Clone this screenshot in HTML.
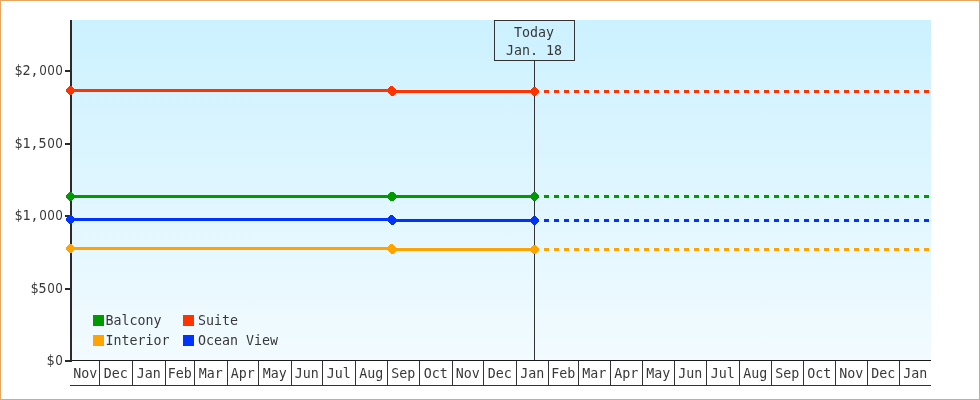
<!DOCTYPE html>
<html lang="en"><head><meta charset="utf-8"><title>Price History</title>
<style>
html,body{margin:0;padding:0;background:#fff;}
body{width:980px;height:400px;overflow:hidden;position:relative;}
#frame{position:absolute;left:0;top:0;width:978px;height:398px;border:1px solid #E9A55E;background:#fff;}
svg{position:absolute;left:0;top:0;display:block;}
text{font-family:"DejaVu Sans Mono", "Liberation Mono", monospace;font-size:13.3px;fill:#383838;}
tspan.z{font-family:"DejaVu Sans Condensed","DejaVu Sans Mono","Liberation Mono",monospace;}
</style></head><body>
<div id="frame"></div>
<svg width="980" height="400" viewBox="0 0 980 400">
<defs><linearGradient id="bg" x1="0" y1="0" x2="0" y2="1"><stop offset="0" stop-color="#CCF1FF"/><stop offset="1" stop-color="#F2FBFF"/></linearGradient></defs>
<g shape-rendering="crispEdges">
<rect x="72" y="20" width="859" height="340" fill="url(#bg)"/>
<rect x="70" y="20" width="2" height="342" fill="#2a2a2a"/>
<rect x="65" y="70" width="5" height="2" fill="#2a2a2a"/>
<rect x="65" y="143" width="5" height="2" fill="#2a2a2a"/>
<rect x="65" y="215" width="5" height="2" fill="#2a2a2a"/>
<rect x="65" y="288" width="5" height="2" fill="#2a2a2a"/>
<rect x="65" y="360" width="5" height="2" fill="#2a2a2a"/>
<rect x="72" y="360" width="859" height="1" fill="#1a1a1a"/>
<rect x="70" y="385" width="861" height="1" fill="#333"/>
<rect x="99" y="361" width="1" height="24" fill="#333"/>
<rect x="132" y="361" width="1" height="24" fill="#333"/>
<rect x="165" y="361" width="1" height="24" fill="#333"/>
<rect x="194" y="361" width="1" height="24" fill="#333"/>
<rect x="227" y="361" width="1" height="24" fill="#333"/>
<rect x="258" y="361" width="1" height="24" fill="#333"/>
<rect x="291" y="361" width="1" height="24" fill="#333"/>
<rect x="322" y="361" width="1" height="24" fill="#333"/>
<rect x="355" y="361" width="1" height="24" fill="#333"/>
<rect x="387" y="361" width="1" height="24" fill="#333"/>
<rect x="419" y="361" width="1" height="24" fill="#333"/>
<rect x="452" y="361" width="1" height="24" fill="#333"/>
<rect x="483" y="361" width="1" height="24" fill="#333"/>
<rect x="516" y="361" width="1" height="24" fill="#333"/>
<rect x="548" y="361" width="1" height="24" fill="#333"/>
<rect x="578" y="361" width="1" height="24" fill="#333"/>
<rect x="610" y="361" width="1" height="24" fill="#333"/>
<rect x="642" y="361" width="1" height="24" fill="#333"/>
<rect x="674" y="361" width="1" height="24" fill="#333"/>
<rect x="706" y="361" width="1" height="24" fill="#333"/>
<rect x="739" y="361" width="1" height="24" fill="#333"/>
<rect x="771" y="361" width="1" height="24" fill="#333"/>
<rect x="803" y="361" width="1" height="24" fill="#333"/>
<rect x="835" y="361" width="1" height="24" fill="#333"/>
<rect x="867" y="361" width="1" height="24" fill="#333"/>
<rect x="899" y="361" width="1" height="24" fill="#333"/>
<rect x="534" y="61" width="1" height="299" fill="#333"/>
<rect x="494.5" y="20.5" width="80" height="40" fill="none" stroke="#333" stroke-width="1"/>
<rect x="70" y="89" width="322" height="3" fill="#FF3300"/>
<rect x="392" y="90" width="143" height="3" fill="#FF3300"/>
<rect x="544" y="90" width="5" height="3" fill="#FF3300"/>
<rect x="554" y="90" width="5" height="3" fill="#FF3300"/>
<rect x="564" y="90" width="5" height="3" fill="#FF3300"/>
<rect x="574" y="90" width="5" height="3" fill="#FF3300"/>
<rect x="584" y="90" width="5" height="3" fill="#FF3300"/>
<rect x="594" y="90" width="5" height="3" fill="#FF3300"/>
<rect x="604" y="90" width="5" height="3" fill="#FF3300"/>
<rect x="614" y="90" width="5" height="3" fill="#FF3300"/>
<rect x="624" y="90" width="5" height="3" fill="#FF3300"/>
<rect x="634" y="90" width="5" height="3" fill="#FF3300"/>
<rect x="644" y="90" width="5" height="3" fill="#FF3300"/>
<rect x="654" y="90" width="5" height="3" fill="#FF3300"/>
<rect x="664" y="90" width="5" height="3" fill="#FF3300"/>
<rect x="674" y="90" width="5" height="3" fill="#FF3300"/>
<rect x="684" y="90" width="5" height="3" fill="#FF3300"/>
<rect x="694" y="90" width="5" height="3" fill="#FF3300"/>
<rect x="704" y="90" width="5" height="3" fill="#FF3300"/>
<rect x="714" y="90" width="5" height="3" fill="#FF3300"/>
<rect x="724" y="90" width="5" height="3" fill="#FF3300"/>
<rect x="734" y="90" width="5" height="3" fill="#FF3300"/>
<rect x="744" y="90" width="5" height="3" fill="#FF3300"/>
<rect x="754" y="90" width="5" height="3" fill="#FF3300"/>
<rect x="764" y="90" width="5" height="3" fill="#FF3300"/>
<rect x="774" y="90" width="5" height="3" fill="#FF3300"/>
<rect x="784" y="90" width="5" height="3" fill="#FF3300"/>
<rect x="794" y="90" width="5" height="3" fill="#FF3300"/>
<rect x="804" y="90" width="5" height="3" fill="#FF3300"/>
<rect x="814" y="90" width="5" height="3" fill="#FF3300"/>
<rect x="824" y="90" width="5" height="3" fill="#FF3300"/>
<rect x="834" y="90" width="5" height="3" fill="#FF3300"/>
<rect x="844" y="90" width="5" height="3" fill="#FF3300"/>
<rect x="854" y="90" width="5" height="3" fill="#FF3300"/>
<rect x="864" y="90" width="5" height="3" fill="#FF3300"/>
<rect x="874" y="90" width="5" height="3" fill="#FF3300"/>
<rect x="884" y="90" width="5" height="3" fill="#FF3300"/>
<rect x="894" y="90" width="5" height="3" fill="#FF3300"/>
<rect x="904" y="90" width="5" height="3" fill="#FF3300"/>
<rect x="914" y="90" width="5" height="3" fill="#FF3300"/>
<rect x="924" y="90" width="5" height="3" fill="#FF3300"/>
<rect x="70" y="195" width="322" height="3" fill="#009900"/>
<rect x="392" y="195" width="143" height="3" fill="#009900"/>
<rect x="544" y="195" width="5" height="3" fill="#009900"/>
<rect x="554" y="195" width="5" height="3" fill="#009900"/>
<rect x="564" y="195" width="5" height="3" fill="#009900"/>
<rect x="574" y="195" width="5" height="3" fill="#009900"/>
<rect x="584" y="195" width="5" height="3" fill="#009900"/>
<rect x="594" y="195" width="5" height="3" fill="#009900"/>
<rect x="604" y="195" width="5" height="3" fill="#009900"/>
<rect x="614" y="195" width="5" height="3" fill="#009900"/>
<rect x="624" y="195" width="5" height="3" fill="#009900"/>
<rect x="634" y="195" width="5" height="3" fill="#009900"/>
<rect x="644" y="195" width="5" height="3" fill="#009900"/>
<rect x="654" y="195" width="5" height="3" fill="#009900"/>
<rect x="664" y="195" width="5" height="3" fill="#009900"/>
<rect x="674" y="195" width="5" height="3" fill="#009900"/>
<rect x="684" y="195" width="5" height="3" fill="#009900"/>
<rect x="694" y="195" width="5" height="3" fill="#009900"/>
<rect x="704" y="195" width="5" height="3" fill="#009900"/>
<rect x="714" y="195" width="5" height="3" fill="#009900"/>
<rect x="724" y="195" width="5" height="3" fill="#009900"/>
<rect x="734" y="195" width="5" height="3" fill="#009900"/>
<rect x="744" y="195" width="5" height="3" fill="#009900"/>
<rect x="754" y="195" width="5" height="3" fill="#009900"/>
<rect x="764" y="195" width="5" height="3" fill="#009900"/>
<rect x="774" y="195" width="5" height="3" fill="#009900"/>
<rect x="784" y="195" width="5" height="3" fill="#009900"/>
<rect x="794" y="195" width="5" height="3" fill="#009900"/>
<rect x="804" y="195" width="5" height="3" fill="#009900"/>
<rect x="814" y="195" width="5" height="3" fill="#009900"/>
<rect x="824" y="195" width="5" height="3" fill="#009900"/>
<rect x="834" y="195" width="5" height="3" fill="#009900"/>
<rect x="844" y="195" width="5" height="3" fill="#009900"/>
<rect x="854" y="195" width="5" height="3" fill="#009900"/>
<rect x="864" y="195" width="5" height="3" fill="#009900"/>
<rect x="874" y="195" width="5" height="3" fill="#009900"/>
<rect x="884" y="195" width="5" height="3" fill="#009900"/>
<rect x="894" y="195" width="5" height="3" fill="#009900"/>
<rect x="904" y="195" width="5" height="3" fill="#009900"/>
<rect x="914" y="195" width="5" height="3" fill="#009900"/>
<rect x="924" y="195" width="5" height="3" fill="#009900"/>
<rect x="70" y="218" width="322" height="3" fill="#0033FF"/>
<rect x="392" y="219" width="143" height="3" fill="#0033FF"/>
<rect x="544" y="219" width="5" height="3" fill="#0033FF"/>
<rect x="554" y="219" width="5" height="3" fill="#0033FF"/>
<rect x="564" y="219" width="5" height="3" fill="#0033FF"/>
<rect x="574" y="219" width="5" height="3" fill="#0033FF"/>
<rect x="584" y="219" width="5" height="3" fill="#0033FF"/>
<rect x="594" y="219" width="5" height="3" fill="#0033FF"/>
<rect x="604" y="219" width="5" height="3" fill="#0033FF"/>
<rect x="614" y="219" width="5" height="3" fill="#0033FF"/>
<rect x="624" y="219" width="5" height="3" fill="#0033FF"/>
<rect x="634" y="219" width="5" height="3" fill="#0033FF"/>
<rect x="644" y="219" width="5" height="3" fill="#0033FF"/>
<rect x="654" y="219" width="5" height="3" fill="#0033FF"/>
<rect x="664" y="219" width="5" height="3" fill="#0033FF"/>
<rect x="674" y="219" width="5" height="3" fill="#0033FF"/>
<rect x="684" y="219" width="5" height="3" fill="#0033FF"/>
<rect x="694" y="219" width="5" height="3" fill="#0033FF"/>
<rect x="704" y="219" width="5" height="3" fill="#0033FF"/>
<rect x="714" y="219" width="5" height="3" fill="#0033FF"/>
<rect x="724" y="219" width="5" height="3" fill="#0033FF"/>
<rect x="734" y="219" width="5" height="3" fill="#0033FF"/>
<rect x="744" y="219" width="5" height="3" fill="#0033FF"/>
<rect x="754" y="219" width="5" height="3" fill="#0033FF"/>
<rect x="764" y="219" width="5" height="3" fill="#0033FF"/>
<rect x="774" y="219" width="5" height="3" fill="#0033FF"/>
<rect x="784" y="219" width="5" height="3" fill="#0033FF"/>
<rect x="794" y="219" width="5" height="3" fill="#0033FF"/>
<rect x="804" y="219" width="5" height="3" fill="#0033FF"/>
<rect x="814" y="219" width="5" height="3" fill="#0033FF"/>
<rect x="824" y="219" width="5" height="3" fill="#0033FF"/>
<rect x="834" y="219" width="5" height="3" fill="#0033FF"/>
<rect x="844" y="219" width="5" height="3" fill="#0033FF"/>
<rect x="854" y="219" width="5" height="3" fill="#0033FF"/>
<rect x="864" y="219" width="5" height="3" fill="#0033FF"/>
<rect x="874" y="219" width="5" height="3" fill="#0033FF"/>
<rect x="884" y="219" width="5" height="3" fill="#0033FF"/>
<rect x="894" y="219" width="5" height="3" fill="#0033FF"/>
<rect x="904" y="219" width="5" height="3" fill="#0033FF"/>
<rect x="914" y="219" width="5" height="3" fill="#0033FF"/>
<rect x="924" y="219" width="5" height="3" fill="#0033FF"/>
<rect x="70" y="247" width="322" height="3" fill="#FFA300"/>
<rect x="392" y="248" width="143" height="3" fill="#FFA300"/>
<rect x="544" y="248" width="5" height="3" fill="#FFA300"/>
<rect x="554" y="248" width="5" height="3" fill="#FFA300"/>
<rect x="564" y="248" width="5" height="3" fill="#FFA300"/>
<rect x="574" y="248" width="5" height="3" fill="#FFA300"/>
<rect x="584" y="248" width="5" height="3" fill="#FFA300"/>
<rect x="594" y="248" width="5" height="3" fill="#FFA300"/>
<rect x="604" y="248" width="5" height="3" fill="#FFA300"/>
<rect x="614" y="248" width="5" height="3" fill="#FFA300"/>
<rect x="624" y="248" width="5" height="3" fill="#FFA300"/>
<rect x="634" y="248" width="5" height="3" fill="#FFA300"/>
<rect x="644" y="248" width="5" height="3" fill="#FFA300"/>
<rect x="654" y="248" width="5" height="3" fill="#FFA300"/>
<rect x="664" y="248" width="5" height="3" fill="#FFA300"/>
<rect x="674" y="248" width="5" height="3" fill="#FFA300"/>
<rect x="684" y="248" width="5" height="3" fill="#FFA300"/>
<rect x="694" y="248" width="5" height="3" fill="#FFA300"/>
<rect x="704" y="248" width="5" height="3" fill="#FFA300"/>
<rect x="714" y="248" width="5" height="3" fill="#FFA300"/>
<rect x="724" y="248" width="5" height="3" fill="#FFA300"/>
<rect x="734" y="248" width="5" height="3" fill="#FFA300"/>
<rect x="744" y="248" width="5" height="3" fill="#FFA300"/>
<rect x="754" y="248" width="5" height="3" fill="#FFA300"/>
<rect x="764" y="248" width="5" height="3" fill="#FFA300"/>
<rect x="774" y="248" width="5" height="3" fill="#FFA300"/>
<rect x="784" y="248" width="5" height="3" fill="#FFA300"/>
<rect x="794" y="248" width="5" height="3" fill="#FFA300"/>
<rect x="804" y="248" width="5" height="3" fill="#FFA300"/>
<rect x="814" y="248" width="5" height="3" fill="#FFA300"/>
<rect x="824" y="248" width="5" height="3" fill="#FFA300"/>
<rect x="834" y="248" width="5" height="3" fill="#FFA300"/>
<rect x="844" y="248" width="5" height="3" fill="#FFA300"/>
<rect x="854" y="248" width="5" height="3" fill="#FFA300"/>
<rect x="864" y="248" width="5" height="3" fill="#FFA300"/>
<rect x="874" y="248" width="5" height="3" fill="#FFA300"/>
<rect x="884" y="248" width="5" height="3" fill="#FFA300"/>
<rect x="894" y="248" width="5" height="3" fill="#FFA300"/>
<rect x="904" y="248" width="5" height="3" fill="#FFA300"/>
<rect x="914" y="248" width="5" height="3" fill="#FFA300"/>
<rect x="924" y="248" width="5" height="3" fill="#FFA300"/>
</g>
<g fill="#FF3300" shape-rendering="crispEdges"><rect x="69" y="86" width="3" height="1"/><rect x="68" y="87" width="5" height="1"/><rect x="67" y="88" width="7" height="1"/><rect x="66" y="89" width="8" height="1"/><rect x="66" y="90" width="8" height="1"/><rect x="66" y="91" width="8" height="1"/><rect x="67" y="92" width="7" height="1"/><rect x="68" y="93" width="5" height="1"/><rect x="69" y="94" width="3" height="1"/></g>
<g fill="#FF3300" shape-rendering="crispEdges"><rect x="390" y="86" width="3" height="1"/><rect x="389" y="87" width="5" height="1"/><rect x="388" y="88" width="7" height="1"/><rect x="388" y="89" width="8" height="1"/><rect x="388" y="90" width="8" height="1"/><rect x="388" y="91" width="8" height="1"/><rect x="388" y="92" width="8" height="1"/><rect x="389" y="93" width="7" height="1"/><rect x="390" y="94" width="5" height="1"/><rect x="391" y="95" width="3" height="1"/></g>
<g fill="#FF3300" shape-rendering="crispEdges"><rect x="533" y="87" width="3" height="1"/><rect x="532" y="88" width="5" height="1"/><rect x="531" y="89" width="7" height="1"/><rect x="531" y="90" width="8" height="1"/><rect x="531" y="91" width="8" height="1"/><rect x="531" y="92" width="8" height="1"/><rect x="531" y="93" width="7" height="1"/><rect x="532" y="94" width="5" height="1"/><rect x="533" y="95" width="3" height="1"/></g>
<g fill="#009900" shape-rendering="crispEdges"><rect x="69" y="192" width="3" height="1"/><rect x="68" y="193" width="5" height="1"/><rect x="67" y="194" width="7" height="1"/><rect x="66" y="195" width="8" height="1"/><rect x="66" y="196" width="8" height="1"/><rect x="66" y="197" width="8" height="1"/><rect x="67" y="198" width="7" height="1"/><rect x="68" y="199" width="5" height="1"/><rect x="69" y="200" width="3" height="1"/></g>
<g fill="#009900" shape-rendering="crispEdges"><rect x="390" y="192" width="4" height="1"/><rect x="389" y="193" width="6" height="1"/><rect x="388" y="194" width="8" height="1"/><rect x="388" y="195" width="8" height="1"/><rect x="388" y="196" width="8" height="1"/><rect x="388" y="197" width="8" height="1"/><rect x="388" y="198" width="8" height="1"/><rect x="389" y="199" width="6" height="1"/><rect x="390" y="200" width="4" height="1"/></g>
<g fill="#009900" shape-rendering="crispEdges"><rect x="533" y="192" width="3" height="1"/><rect x="532" y="193" width="5" height="1"/><rect x="531" y="194" width="7" height="1"/><rect x="531" y="195" width="8" height="1"/><rect x="531" y="196" width="8" height="1"/><rect x="531" y="197" width="8" height="1"/><rect x="531" y="198" width="7" height="1"/><rect x="532" y="199" width="5" height="1"/><rect x="533" y="200" width="3" height="1"/></g>
<g fill="#0033FF" shape-rendering="crispEdges"><rect x="69" y="215" width="3" height="1"/><rect x="68" y="216" width="5" height="1"/><rect x="67" y="217" width="7" height="1"/><rect x="66" y="218" width="8" height="1"/><rect x="66" y="219" width="8" height="1"/><rect x="66" y="220" width="8" height="1"/><rect x="67" y="221" width="7" height="1"/><rect x="68" y="222" width="5" height="1"/><rect x="69" y="223" width="3" height="1"/></g>
<g fill="#0033FF" shape-rendering="crispEdges"><rect x="390" y="215" width="3" height="1"/><rect x="389" y="216" width="5" height="1"/><rect x="388" y="217" width="7" height="1"/><rect x="388" y="218" width="8" height="1"/><rect x="388" y="219" width="8" height="1"/><rect x="388" y="220" width="8" height="1"/><rect x="388" y="221" width="8" height="1"/><rect x="389" y="222" width="7" height="1"/><rect x="390" y="223" width="5" height="1"/><rect x="391" y="224" width="3" height="1"/></g>
<g fill="#0033FF" shape-rendering="crispEdges"><rect x="533" y="216" width="3" height="1"/><rect x="532" y="217" width="5" height="1"/><rect x="531" y="218" width="7" height="1"/><rect x="531" y="219" width="8" height="1"/><rect x="531" y="220" width="8" height="1"/><rect x="531" y="221" width="8" height="1"/><rect x="531" y="222" width="7" height="1"/><rect x="532" y="223" width="5" height="1"/><rect x="533" y="224" width="3" height="1"/></g>
<g fill="#FFA300" shape-rendering="crispEdges"><rect x="69" y="244" width="3" height="1"/><rect x="68" y="245" width="5" height="1"/><rect x="67" y="246" width="7" height="1"/><rect x="66" y="247" width="8" height="1"/><rect x="66" y="248" width="8" height="1"/><rect x="66" y="249" width="8" height="1"/><rect x="67" y="250" width="7" height="1"/><rect x="68" y="251" width="5" height="1"/><rect x="69" y="252" width="3" height="1"/></g>
<g fill="#FFA300" shape-rendering="crispEdges"><rect x="390" y="244" width="3" height="1"/><rect x="389" y="245" width="5" height="1"/><rect x="388" y="246" width="7" height="1"/><rect x="388" y="247" width="8" height="1"/><rect x="388" y="248" width="8" height="1"/><rect x="388" y="249" width="8" height="1"/><rect x="388" y="250" width="8" height="1"/><rect x="389" y="251" width="7" height="1"/><rect x="390" y="252" width="5" height="1"/><rect x="391" y="253" width="3" height="1"/></g>
<g fill="#FFA300" shape-rendering="crispEdges"><rect x="533" y="245" width="3" height="1"/><rect x="532" y="246" width="5" height="1"/><rect x="531" y="247" width="7" height="1"/><rect x="531" y="248" width="8" height="1"/><rect x="531" y="249" width="8" height="1"/><rect x="531" y="250" width="8" height="1"/><rect x="531" y="251" width="7" height="1"/><rect x="532" y="252" width="5" height="1"/><rect x="533" y="253" width="3" height="1"/></g>
<rect x="93" y="315" width="11" height="11" fill="#009900" shape-rendering="crispEdges"/>
<rect x="183" y="315" width="11" height="11" fill="#FF3300" shape-rendering="crispEdges"/>
<rect x="93" y="335" width="11" height="11" fill="#FFA300" shape-rendering="crispEdges"/>
<rect x="183" y="335" width="11" height="11" fill="#0033FF" shape-rendering="crispEdges"/>
<text x="105.5" y="325">Balcony</text>
<text x="198" y="325">Suite</text>
<text x="105.5" y="345">Interior</text>
<text x="198" y="345">Ocean View</text>
<text x="18.5 26.5 34.5 43.0 51.0 59.0" y="75" text-anchor="middle">$2,<tspan class="z">000</tspan></text>
<text x="18.5 26.5 34.5 42.5 51.0 59.0" y="148" text-anchor="middle">$1,5<tspan class="z">00</tspan></text>
<text x="18.5 26.5 34.5 43.0 51.0 59.0" y="220" text-anchor="middle">$1,<tspan class="z">000</tspan></text>
<text x="34.5 42.5 51.0 59.0" y="293" text-anchor="middle">$5<tspan class="z">00</tspan></text>
<text x="50.5 59.0" y="365" text-anchor="middle">$<tspan class="z">0</tspan></text>
<text x="534.1" y="37" text-anchor="middle">Today</text>
<text x="534.1" y="55.2" text-anchor="middle">Jan. 18</text>
<text x="85.3" y="378" text-anchor="middle">Nov</text>
<text x="115.7" y="378" text-anchor="middle">Dec</text>
<text x="148.7" y="378" text-anchor="middle">Jan</text>
<text x="179.7" y="378" text-anchor="middle">Feb</text>
<text x="210.7" y="378" text-anchor="middle">Mar</text>
<text x="242.7" y="378" text-anchor="middle">Apr</text>
<text x="274.7" y="378" text-anchor="middle">May</text>
<text x="306.7" y="378" text-anchor="middle">Jun</text>
<text x="338.7" y="378" text-anchor="middle">Jul</text>
<text x="371.2" y="378" text-anchor="middle">Aug</text>
<text x="403.2" y="378" text-anchor="middle">Sep</text>
<text x="435.7" y="378" text-anchor="middle">Oct</text>
<text x="467.7" y="378" text-anchor="middle">Nov</text>
<text x="499.7" y="378" text-anchor="middle">Dec</text>
<text x="532.2" y="378" text-anchor="middle">Jan</text>
<text x="563.2" y="378" text-anchor="middle">Feb</text>
<text x="594.2" y="378" text-anchor="middle">Mar</text>
<text x="626.2" y="378" text-anchor="middle">Apr</text>
<text x="658.2" y="378" text-anchor="middle">May</text>
<text x="690.2" y="378" text-anchor="middle">Jun</text>
<text x="722.7" y="378" text-anchor="middle">Jul</text>
<text x="755.2" y="378" text-anchor="middle">Aug</text>
<text x="787.2" y="378" text-anchor="middle">Sep</text>
<text x="819.2" y="378" text-anchor="middle">Oct</text>
<text x="851.2" y="378" text-anchor="middle">Nov</text>
<text x="883.2" y="378" text-anchor="middle">Dec</text>
<text x="915.2" y="378" text-anchor="middle">Jan</text>
</svg>
</body></html>
